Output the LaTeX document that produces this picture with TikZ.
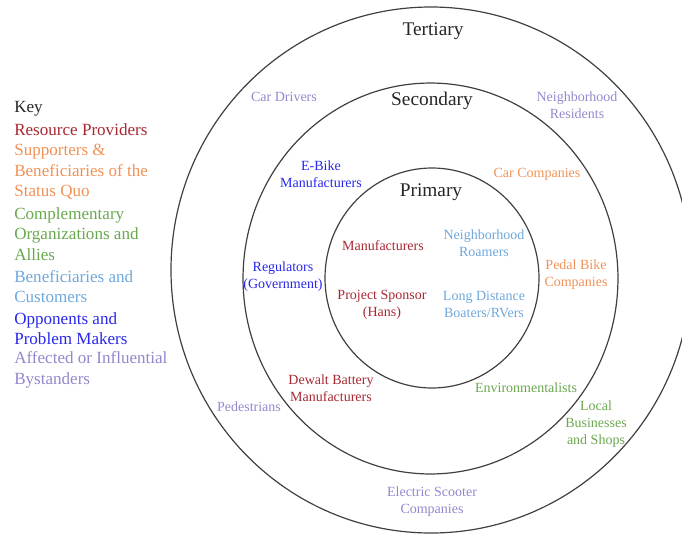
\documentclass[tikz,border=0pt]{standalone}
\usepackage{fontspec}
\setmainfont{Liberation Serif}
\definecolor{provider}{RGB}{168,40,50}
\definecolor{supporter}{RGB}{242,145,85}
\definecolor{ally}{RGB}{106,168,79}
\definecolor{customer}{RGB}{111,168,220}
\definecolor{opponent}{RGB}{40,40,235}
\definecolor{bystander}{RGB}{150,135,205}
\begin{document}
\begin{tikzpicture}[x=0.75pt, y=-0.75pt,
  ring/.style={draw=black!75, line width=0.9pt},
  every node/.style={inner sep=0pt, align=center, font=\fontsize{10.5}{12.75}\selectfont},
  tier/.style={text=black!85, font=\fontsize{14.5}{17}\selectfont},
  keyline/.style={anchor=west, align=left, font=\fontsize{12.8}{15.5}\selectfont}]
  \useasboundingbox (0,0) rectangle (682,533);
  \clip (0,0) rectangle (682,533);

  % Rings
  \draw[ring] (431,270) ellipse [x radius=195pt, y radius=197.25pt];
  \draw[ring] (430.5,278.5) ellipse [x radius=140.6pt, y radius=146.6pt];
  \draw[ring] (432,278) ellipse [x radius=80.25pt, y radius=82.5pt];

  % Ring names
  \node[tier] (tertiary) at (433,31) {Tertiary};
  \node[tier] (secondary) at (432,101) {Secondary};
  \node[tier] (primary) at (431,192) {Primary};

  % Stakeholders
  \node[text=bystander] (drivers) at (284,97) {Car Drivers};
  \node[text=bystander] (residents) at (577,105) {Neighborhood\\Residents};
  \node[text=opponent] (ebike) at (321,174) {E-Bike\\Manufacturers};
  \node[text=supporter] (carco) at (537,174) {Car Companies};
  \node[text=provider] (makers) at (383,246) {Manufacturers};
  \node[text=customer] (roamers) at (484,243.5) {Neighborhood\\Roamers};
  \node[text=supporter] (pedal) at (576,275) {Pedal Bike\\Companies};
  \node[text=opponent] (regulators) at (283,276.5) {Regulators\\(Government)};
  \node[text=provider] (sponsor) at (382,304.5) {Project Sponsor\\(Hans)};
  \node[text=customer] (boaters) at (484,304.5) {Long Distance\\Boaters/RVers};
  \node[text=provider] (dewalt) at (331,388.5) {Dewalt Battery\\Manufacturers};
  \node[text=ally] (environ) at (526,388) {Environmentalists};
  \node[text=bystander] (walkers) at (249,407) {Pedestrians};
  \node[text=ally] (shops) at (596,424) {Local\\Businesses\\and Shops};
  \node[text=bystander] (scooter) at (432,501.5) {Electric Scooter\\Companies};

  % Key
  \node[keyline, text=black!85] (key) at (14,109) {Key};
  \node[keyline, text=provider] (k1) at (14,130) {Resource Providers};
  \node[keyline, text=supporter] (k2) at (14,172) {Supporters \&\\Beneficiaries of the\\Status Quo};
  \node[keyline, text=ally] (k3) at (14,234) {Complementary\\Organizations and\\Allies};
  \node[keyline, text=customer] (k4) at (14,286.5) {Beneficiaries and\\Customers};
  \node[keyline, text=opponent] (k5) at (14,328.5) {Opponents and\\Problem Makers};
  \node[keyline, text=bystander] (k6) at (14,370) {Affected or Influential\\Bystanders};
\end{tikzpicture}
\end{document}
